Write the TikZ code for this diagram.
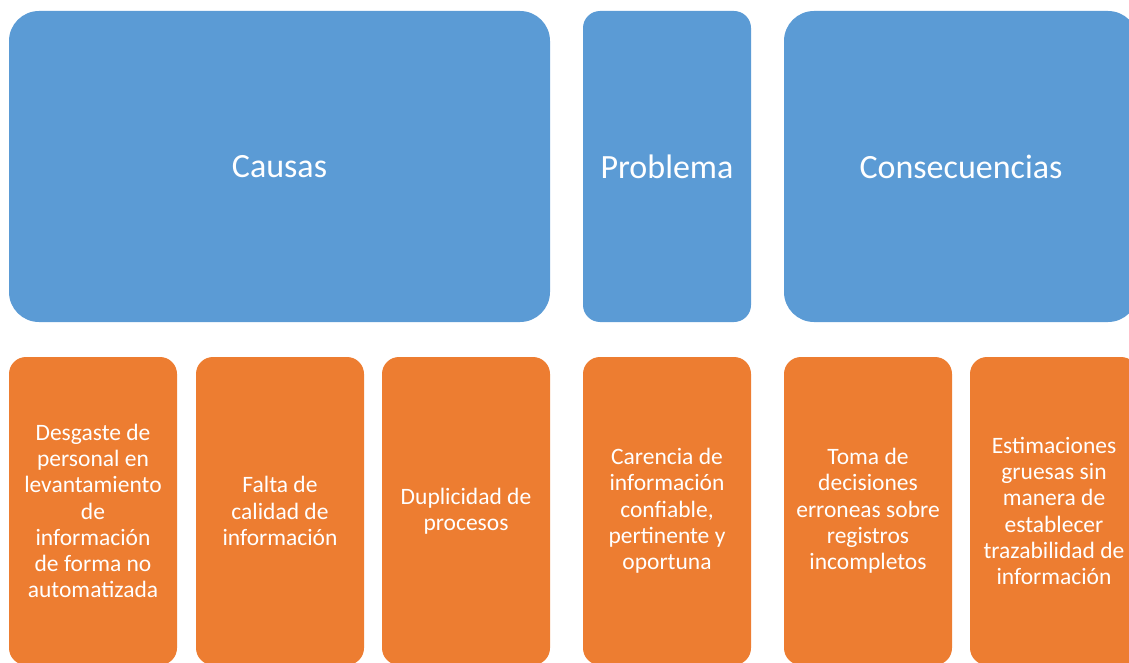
\documentclass[tikz,border=0pt]{standalone}
\usepackage{fontspec}
\setmainfont{Carlito}
\definecolor{blu}{HTML}{5B9BD5}
\definecolor{org}{HTML}{ED7D31}
\begin{document}
\begin{tikzpicture}[x=1pt,y=-1pt,
  headbox/.style={rectangle, fill=blu, draw=none, inner sep=0pt, text=white,
    minimum height=311pt, font=\fontsize{34}{40}\selectfont},
  itembox/.style={rectangle, fill=org, draw=none, inner sep=0pt, text=white,
    minimum width=168pt, minimum height=308pt, rounded corners=17pt, align=center,
    font=\fontsize{23.5}{26.3}\selectfont}]
\useasboundingbox (0,0) rectangle (1129,663);
\clip (0,0) rectangle (1129,663);
\node[headbox, minimum width=541pt, rounded corners=30pt] (causas) at (279.5,166.5) {Causas};
\node[headbox, minimum width=168pt, rounded corners=17pt] (problema) at (667,166.5) {Problema};
\node[headbox, minimum width=354pt, rounded corners=30pt] (conse) at (961,166.5) {Consecuencias};
\node[itembox] (c1) at (93,511) {Desgaste de\\personal en\\levantamiento\\de\\información\\de forma no\\automatizada};
\node[itembox] (c2) at (280,511) {Falta de\\calidad de\\información};
\node[itembox] (c3) at (466,511) {Duplicidad de\\procesos};
\node[itembox] (p1) at (667,511) {Carencia de\\información\\confiable,\\pertinente y\\oportuna};
\node[itembox] (k1) at (868,511) {Toma de\\decisiones\\erroneas sobre\\registros\\incompletos};
\node[itembox] (k2) at (1054,511) {Estimaciones\\gruesas sin\\manera de\\establecer\\trazabilidad de\\información};
\end{tikzpicture}
\end{document}
